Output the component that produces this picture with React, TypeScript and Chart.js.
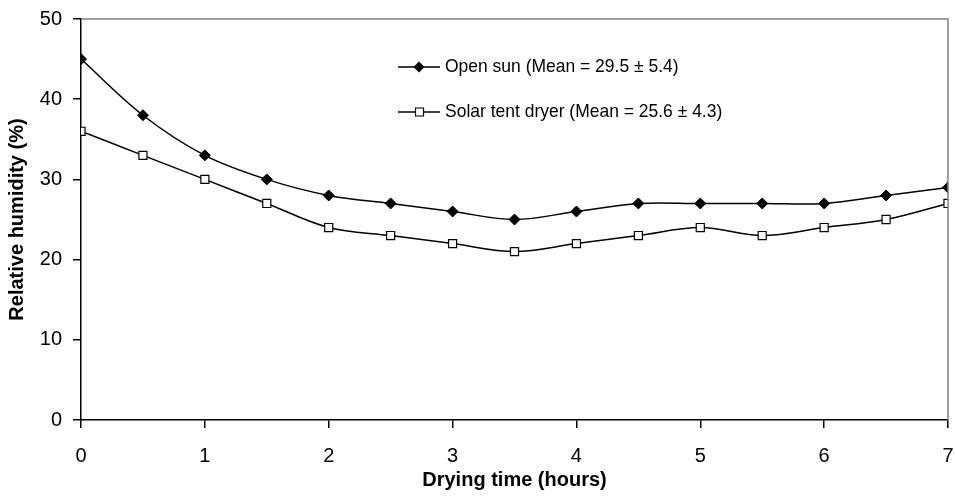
import React, { useEffect, useRef } from "react";
import { Chart, registerables } from "chart.js";

Chart.register(...registerables);

const hours = [0, 0.5, 1, 1.5, 2, 2.5, 3, 3.5, 4, 4.5, 5, 5.5, 6, 6.5, 7];
const openSun = [45, 38, 33, 30, 28, 27, 26, 25, 26, 27, 27, 27, 27, 28, 29];
const solarTent = [36, 33, 30, 27, 24, 23, 22, 21, 22, 23, 24, 23, 24, 25, 27];
const seriesLabels = ["Open sun (Mean = 29.5 \u00b1 5.4)", "Solar tent dryer (Mean = 25.6 \u00b1 4.3)"];
const xTitle = "Drying time (hours)";
const yTitle = "Relative humidity (%)";

const FONT = "'Liberation Sans', Arial, sans-serif";

const framePlugin = {
  id: "frame",
  afterDatasetsDraw(chart: any) {
    const { ctx, chartArea } = chart;
    ctx.save();
    ctx.strokeStyle = "#808080";
    ctx.lineWidth = 1.5;
    ctx.beginPath();
    ctx.moveTo(chartArea.left, chartArea.top);
    ctx.lineTo(chartArea.right, chartArea.top);
    ctx.lineTo(chartArea.right, chartArea.bottom);
    ctx.stroke();
    ctx.restore();
  },
  afterDraw(chart: any) {
    const { ctx } = chart;
    ctx.save();
    const rows = [
      { y: 67, style: "diamond", label: seriesLabels[0] },
      { y: 112, style: "square", label: seriesLabels[1] },
    ];
    for (const r of rows) {
      ctx.strokeStyle = "#000";
      ctx.lineWidth = 1.5;
      ctx.beginPath();
      ctx.moveTo(398, r.y);
      ctx.lineTo(440, r.y);
      ctx.stroke();
      ctx.beginPath();
      if (r.style === "diamond") {
        ctx.moveTo(419, r.y - 5.5);
        ctx.lineTo(424.5, r.y);
        ctx.lineTo(419, r.y + 5.5);
        ctx.lineTo(413.5, r.y);
        ctx.closePath();
        ctx.fillStyle = "#000";
        ctx.fill();
      } else {
        ctx.rect(415.5, r.y - 4, 8, 8);
        ctx.fillStyle = "#fff";
        ctx.fill();
        ctx.lineWidth = 1.2;
        ctx.stroke();
      }
      ctx.save();
      ctx.translate(445, r.y);
      ctx.scale(0.92, 1);
      ctx.font = `19px ${FONT}`;
      ctx.textBaseline = "middle";
      ctx.textAlign = "left";
      ctx.fillStyle = "#000";
      ctx.fillText(r.label, 0, 0);
      ctx.restore();
    }
    ctx.restore();
  },
};

export default function App() {
  const ref = useRef<HTMLCanvasElement | null>(null);
  useEffect(() => {
    document.body.style.margin = "0";
    const canvas = ref.current;
    if (!canvas) return;
    const chart = new Chart(canvas, {
      type: "line",
      data: {
        datasets: [
          {
            label: seriesLabels[0],
            data: hours.map((h, i) => ({ x: h, y: openSun[i] })),
            borderColor: "#000",
            backgroundColor: "#000",
            borderWidth: 1.5,
            pointStyle: "rectRot",
            pointRadius: 5.5,
            pointBorderWidth: 1,
            pointBackgroundColor: "#000",
            pointBorderColor: "#000",
            tension: 0.35,
            fill: false,
          },
          {
            label: seriesLabels[1],
            data: hours.map((h, i) => ({ x: h, y: solarTent[i] })),
            borderColor: "#000",
            backgroundColor: "#fff",
            borderWidth: 1.5,
            pointStyle: "rect",
            pointRadius: 5.7,
            pointBorderWidth: 1.2,
            pointBackgroundColor: "#fff",
            pointBorderColor: "#000",
            tension: 0.35,
            fill: false,
          },
        ],
      },
      options: {
        animation: false,
        responsive: false,
        maintainAspectRatio: false,
        layout: { padding: { top: 19, right: 7, left: 0, bottom: 0 } },
        plugins: {
          legend: { display: false },
          tooltip: { enabled: false },
        },
        scales: {
          x: {
            type: "linear",
            min: 0,
            max: 7,
            afterFit(scale: any) {
              scale.height = 76;
              scale.paddingLeft = 0;
              scale.paddingRight = 0;
            },
            ticks: {
              stepSize: 1,
              color: "#000",
              font: { family: FONT, size: 20 },
              padding: 16,
              maxRotation: 0,
            },
            grid: {
              drawOnChartArea: false,
              drawTicks: true,
              tickLength: 8,
              color: "#000",
              lineWidth: 1.5,
            },
            border: { display: true, color: "#000", width: 1.5 },
            title: {
              display: true,
              text: xTitle,
              color: "#000",
              font: { family: FONT, size: 20, weight: "bold" },
              padding: { top: 0, bottom: 4 },
            },
          },
          y: {
            min: 0,
            max: 50,
            afterFit(scale: any) {
              scale.width = 81;
              scale.paddingTop = 0;
              scale.paddingBottom = 0;
            },
            ticks: {
              stepSize: 10,
              color: "#000",
              font: { family: FONT, size: 20 },
              padding: 11,
            },
            grid: {
              drawOnChartArea: false,
              drawTicks: true,
              tickLength: 8,
              color: "#000",
              lineWidth: 1.5,
            },
            border: { display: true, color: "#000", width: 1.5 },
            title: {
              display: true,
              text: yTitle,
              color: "#000",
              font: { family: FONT, size: 20, weight: "bold" },
              padding: { top: 5, bottom: 0 },
            },
          },
        },
      },
      plugins: [framePlugin],
    });
    return () => chart.destroy();
  }, []);
  return (
    <div style={{ position: "fixed", left: 0, top: 0, width: 955, height: 496 }}>
      <canvas ref={ref} width={955} height={496} style={{ width: 955, height: 496, display: "block" }} />
    </div>
  );
}
